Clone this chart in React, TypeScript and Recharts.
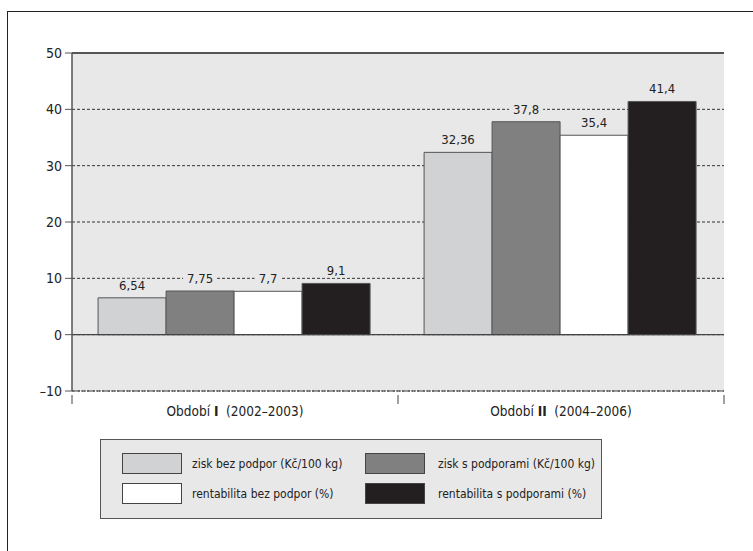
import React from "react";
import {
  BarChart,
  Bar,
  XAxis,
  YAxis,
  CartesianGrid,
  ReferenceLine,
  LabelList,
} from "recharts";

const periods = ["I|(2002–2003)", "II|(2004–2006)"];
const ziskBez = [6.54, 32.36];
const ziskS = [7.75, 37.8];
const rentBez = [7.7, 35.4];
const rentS = [9.1, 41.4];
const yTicks = [-10, 0, 10, 20, 30, 40, 50];

const seriesNames = [
  "zisk bez podpor (Kč/100 kg)",
  "zisk s podporami (Kč/100 kg)",
  "rentabilita bez podpor (%)",
  "rentabilita s podporami (%)",
];
const seriesKeys = ["ziskBez", "ziskS", "rentBez", "rentS"];
const seriesFill = ["#d1d2d4", "#808080", "#ffffff", "#231f20"];

const data = periods.map((p, i) => ({
  period: p,
  ziskBez: ziskBez[i],
  ziskS: ziskS[i],
  rentBez: rentBez[i],
  rentS: rentS[i],
}));

const FONT = "'Liberation Sans Narrow', 'DejaVu Sans Condensed', 'Liberation Sans', Arial, sans-serif";
const PLOT_BG = "#e8e8e8";

const fmt = (v: number) => String(v).replace(".", ",");

// category label plus the short tick marks on the band edges
function PeriodTick(props: any) {
  const { x, y, payload, index } = props;
  const half = payload.offset || 0;
  const [num, years] = String(payload.value).split("|");
  const last = index === periods.length - 1;
  return (
    <g>
      <line x1={x - half} x2={x - half} y1={y - 6} y2={y + 3} stroke="#444" />
      {last && <line x1={x + half} x2={x + half} y1={y - 6} y2={y + 3} stroke="#444" />}
      <text x={x} y={y + 15} textAnchor="middle" fontFamily={FONT} fontSize={13.5} fill="#222">
        <tspan>Období </tspan>
        <tspan fontWeight="bold">{num}</tspan>
        <tspan xmlSpace="preserve">{"  " + years}</tspan>
      </text>
    </g>
  );
}

function ValueLabel(props: any) {
  const { x, y, width, value } = props;
  const cx = x + width / 2;
  const txt = fmt(value);
  const w = txt.length * 7 + 6;
  return (
    <g>
      <rect x={cx - w / 2} y={y - 19} width={w} height={13} fill={PLOT_BG} />
      <text x={cx} y={y - 8} textAnchor="middle" fontFamily={FONT} fontSize={13} fill="#222">
        {txt}
      </text>
    </g>
  );
}

function LegendBox() {
  return (
    <div
      style={{
        position: "absolute",
        left: 100,
        top: 439,
        width: 500,
        height: 78,
        background: PLOT_BG,
        border: "1px solid #555",
        fontFamily: FONT,
        fontSize: 12,
        color: "#222",
      }}
    >
      {seriesNames.map((name, i) => {
        const col = i % 2;
        const row = Math.floor(i / 2);
        return (
          <div
            key={name}
            style={{
              position: "absolute",
              left: col === 0 ? 21 : 264,
              top: row === 0 ? 13 : 43,
              display: "flex",
              alignItems: "center",
              whiteSpace: "nowrap",
            }}
          >
            <div
              style={{
                width: 58,
                height: 19,
                background: seriesFill[i],
                border: "1px solid #444",
              }}
            />
            <span style={{ marginLeft: col === 0 ? 10 : 13 }}>{name}</span>
          </div>
        );
      })}
    </div>
  );
}

export default function App() {
  return (
    <div style={{ position: "absolute", left: 0, top: 0, width: 753, height: 551, background: "#fff" }}>
      <div
        style={{
          position: "absolute",
          left: 7,
          top: 11,
          width: 746,
          height: 540,
          borderTop: "1.5px solid #222",
          borderLeft: "1.5px solid #222",
        }}
      />
      <div style={{ position: "absolute", left: 0, top: 0 }}>
        <BarChart
          width={753}
          height={551}
          data={data}
          margin={{ top: 53, right: 29, left: 0, bottom: 130 }}
          barCategoryGap="8%"
          barGap={0}
        >
          <CartesianGrid
            vertical={false}
            fill={PLOT_BG}
            stroke="#333"
            strokeDasharray="3 2"
          />
          <XAxis
            dataKey="period"
            tick={<PeriodTick />}
            tickLine={false}
            tickSize={8}
            axisLine={{ stroke: "#444", strokeDasharray: "2 1" }}
            height={30}
            interval={0}
          />
          <YAxis
            domain={[-10, 50]}
            ticks={yTicks}
            width={72}
            tickSize={7}
            tickMargin={3}
            tickLine={{ stroke: "#555" }}
            axisLine={{ stroke: "#555", strokeWidth: 1.5 }}
            tick={{ fontFamily: FONT, fontSize: 14, fill: "#222" }}
            tickFormatter={(v: number) => (v < 0 ? "–" + Math.abs(v) : String(v))}
          />
          <YAxis
            yAxisId="right"
            orientation="right"
            domain={[-10, 50]}
            width={0}
            tick={false}
            tickLine={false}
            axisLine={{ stroke: "#555", strokeWidth: 1.5 }}
          />
          <ReferenceLine y={50} stroke="#555" strokeWidth={2} />
          <ReferenceLine y={0} stroke="#444" strokeWidth={1.2} />
          {seriesKeys.map((k, i) => (
            <Bar
              key={k}
              dataKey={k}
              name={seriesNames[i]}
              fill={seriesFill[i]}
              stroke="#555"
              strokeWidth={1}
              isAnimationActive={false}
            >
              <LabelList dataKey={k} content={<ValueLabel />} />
            </Bar>
          ))}
        </BarChart>
      </div>
      <LegendBox />
    </div>
  );
}
